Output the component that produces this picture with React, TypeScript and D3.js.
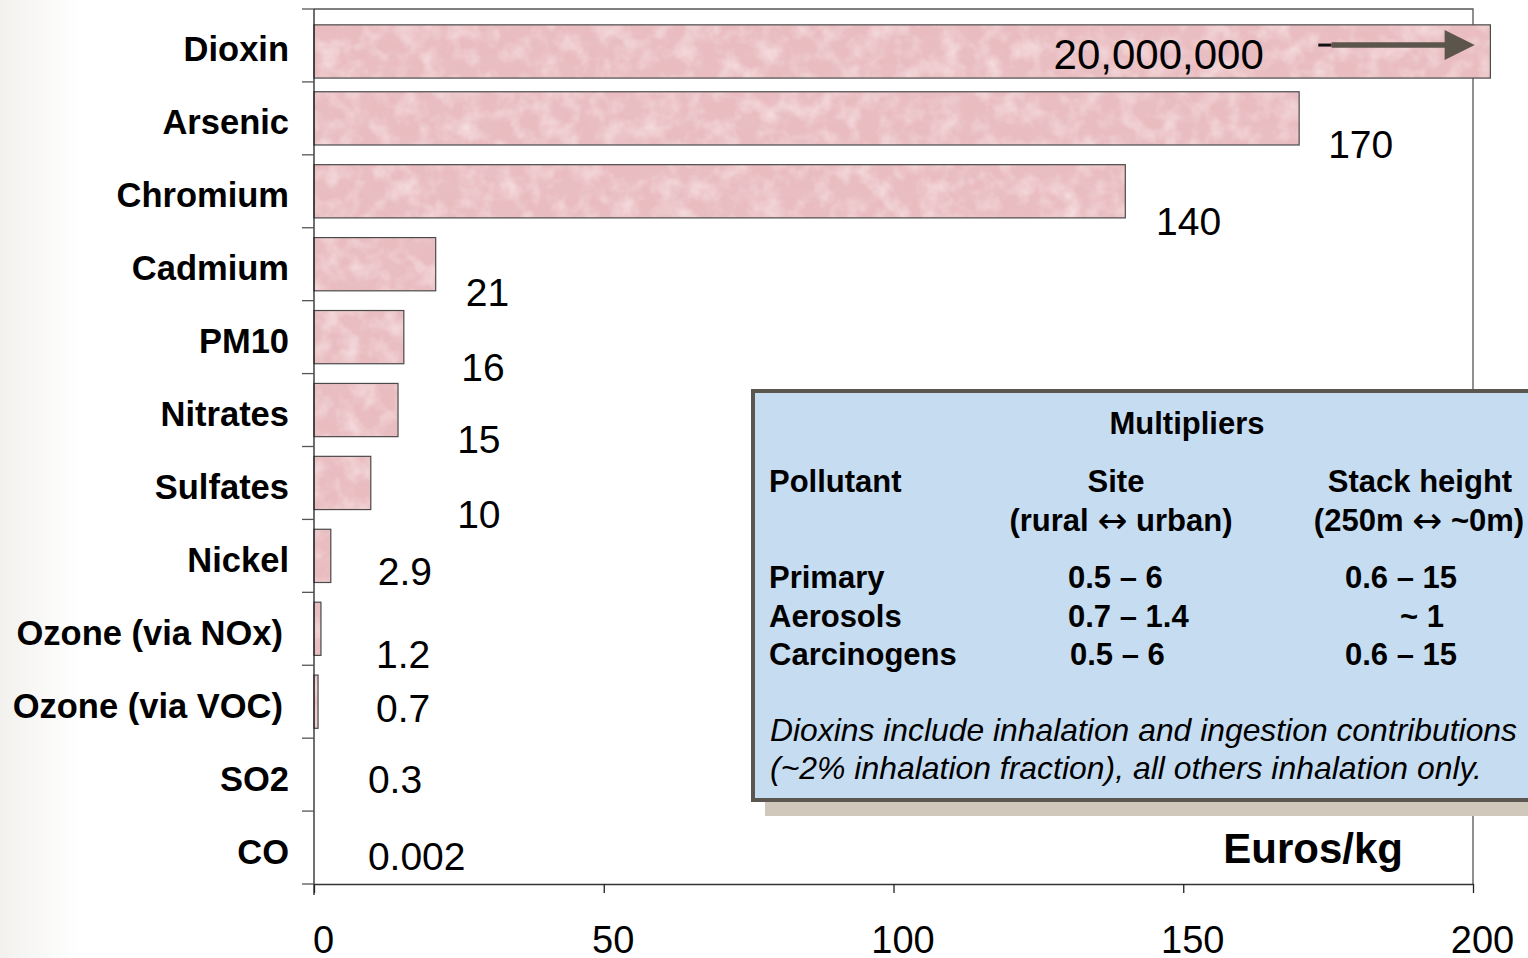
import React, { useEffect, useRef } from "react";
import * as d3 from "d3";

// ---- data ----
const categories = [
  "Dioxin", "Arsenic", "Chromium", "Cadmium", "PM10", "Nitrates",
  "Sulfates", "Nickel", "Ozone (via NOx)", "Ozone (via VOC)", "SO2", "CO",
];
// damage cost, Euros/kg
const values = [20000000, 170, 140, 21, 15.5, 14.5, 9.8, 2.9, 1.2, 0.7, 0.3, 0.002];
const valueLabels = ["20,000,000", "170", "140", "21", "16", "15", "10", "2.9", "1.2", "0.7", "0.3", "0.002"];
const axisMax = 200;
const brokenBarCap = 203; // Dioxin bar is drawn cut off just past the axis end
const xTicks = [0, 50, 100, 150, 200];
const xTickLabels = ["0", "50", "100", "150", "200"];
const axisTitle = "Euros/kg";

// annotation placement (data units along x, pixel nudges from band centre)
const valueLabelAt = [163.9, 175, 145.3, 26.2, 25.4, 24.7, 24.7, 11.0, 10.7, 10.7, 9.3, 9.3];
const valueLabelDy = [9.5, 26.6, 30.7, 27.8, 29.9, 29, 32, 16, 26, 7, 4.5, 8.5];

// inset table
const insetTitle = "Multipliers";
const insetHeaders = ["Pollutant", "Site", "Stack height"];
const insetSubHeaders = [["(rural ", " urban)"], ["(250m ", " ~0m)"]];
const insetRows = ["Primary", "Aerosols", "Carcinogens"];
const siteMultipliers = ["0.5 \u2013 6", "0.7 \u2013 1.4", "0.5 \u2013 6"];
const stackMultipliers = ["0.6 \u2013 15", "~ 1", "0.6 \u2013 15"];
const insetNote = [
  "Dioxins include inhalation and ingestion contributions",
  "(~2% inhalation fraction), all others inhalation only.",
];

const W = 1528;
const H = 958;
const FONT = "'Liberation Sans', Arial, Helvetica, sans-serif";

export default function App() {
  const ref = useRef<SVGSVGElement>(null);

  useEffect(() => {
    const svg = d3.select(ref.current);
    svg.selectAll("*").remove();

    const left = 314, right = 1473, top = 9, bottom = 884;
    const x = d3.scaleLinear().domain([0, axisMax]).range([left, right]);
    const pad = 0.27;
    const y = d3.scaleBand<string>().domain(categories).range([top, bottom])
      .paddingInner(pad).paddingOuter(pad / 2);
    const step = y.step();
    const center = (c: string) => (y(c) as number) + y.bandwidth() / 2;

    const defs = svg.append("defs");
    const lg = defs.append("linearGradient").attr("id", "edge").attr("x1", 0).attr("x2", 1);
    lg.append("stop").attr("offset", 0).attr("stop-color", "#f2f1ee");
    lg.append("stop").attr("offset", 1).attr("stop-color", "#ffffff");
    const f = defs.append("filter").attr("id", "marble")
      .attr("x", 0).attr("y", 0).attr("width", 1).attr("height", 1);
    f.append("feTurbulence").attr("type", "fractalNoise").attr("baseFrequency", "0.035 0.06")
      .attr("numOctaves", 4).attr("seed", 7).attr("result", "n");
    f.append("feColorMatrix").attr("in", "n").attr("type", "matrix")
      .attr("values", "0 0 0 0 0.80  0 0 0 0 0.55  0 0 0 0 0.58  1.0 0 0 0 -0.42")
      .attr("result", "c");
    f.append("feComposite").attr("in", "c").attr("in2", "SourceGraphic").attr("operator", "in");
    const f2 = defs.append("filter").attr("id", "marble2")
      .attr("x", 0).attr("y", 0).attr("width", 1).attr("height", 1);
    f2.append("feTurbulence").attr("type", "fractalNoise").attr("baseFrequency", "0.05")
      .attr("numOctaves", 3).attr("seed", 21).attr("result", "n");
    f2.append("feColorMatrix").attr("in", "n").attr("type", "matrix")
      .attr("values", "0 0 0 0 1  0 0 0 0 0.92  0 0 0 0 0.92  0 1.1 0 0 -0.45")
      .attr("result", "c");
    f2.append("feComposite").attr("in", "c").attr("in2", "SourceGraphic").attr("operator", "in");

    svg.append("rect").attr("x", 0).attr("y", 0).attr("width", W).attr("height", H).attr("fill", "#fff");
    svg.append("rect").attr("x", 0).attr("y", 0).attr("width", 80).attr("height", H).attr("fill", "url(#edge)");

    // frame (top & right)
    svg.append("path").attr("d", `M${left},${top}H${right}V${bottom}`)
      .attr("fill", "none").attr("stroke", "#555").attr("stroke-width", 1.3);

    // bars
    const barW = (v: number) => x(Math.min(v, brokenBarCap)) - x(0);
    const bars = svg.append("g");
    categories.forEach((c, i) => {
      const w = barW(values[i]);
      if (w < 2) return; // too thin to show beside the axis line
      const g = bars.append("g");
      const by = (y(c) as number) + (i === 0 ? 6 : 0);
      const r = () => g.append("rect").attr("x", x(0)).attr("y", by).attr("width", w)
        .attr("height", y.bandwidth());
      r().attr("fill", "#e9bcc0");
      r().attr("fill", "#000").attr("filter", "url(#marble)");
      r().attr("fill", "#000").attr("filter", "url(#marble2)");
      r().attr("fill", "none").attr("stroke", "#4a4a4a").attr("stroke-width", 1.2);
    });

    // arrow on broken Dioxin bar
    const ay = (y(categories[0]) as number) + 6 + y.bandwidth() * 0.38;
    svg.append("line").attr("x1", x(173.3)).attr("x2", x(175.6)).attr("y1", ay).attr("y2", ay)
      .attr("stroke", "#111").attr("stroke-width", 3);
    svg.append("line").attr("x1", x(175.6)).attr("x2", x(195.5)).attr("y1", ay).attr("y2", ay)
      .attr("stroke", "#5c554b").attr("stroke-width", 5.5);
    svg.append("path")
      .attr("d", `M${x(195.1)},${ay - 15}L${x(200.3)},${ay}L${x(195.1)},${ay + 15}Z`)
      .attr("fill", "#5c554b");

    // left axis with boundary ticks
    svg.append("line").attr("x1", left).attr("x2", left).attr("y1", top).attr("y2", bottom + 11)
      .attr("stroke", "#222").attr("stroke-width", 1.3);
    d3.range(categories.length + 1).forEach((k) => {
      const yy = top + k * step;
      svg.append("line").attr("x1", left - 12).attr("x2", left).attr("y1", yy).attr("y2", yy)
        .attr("stroke", "#555").attr("stroke-width", 1.3);
    });

    // bottom axis
    const ax = svg.append("g").attr("transform", `translate(0,${bottom})`)
      .call(d3.axisBottom(x).tickValues(xTicks).tickSize(9).tickSizeOuter(0)
        .tickFormat((_d, i) => xTickLabels[i]));
    ax.select(".domain").attr("stroke", "#333").attr("stroke-width", 1.6);
    ax.selectAll(".tick line").attr("stroke", "#222").attr("stroke-width", 1.3);
    ax.selectAll(".tick text").attr("font-family", FONT).attr("font-size", 38)
      .attr("fill", "#000").attr("y", 0).attr("dy", 0)
      .attr("transform", "translate(9,69)");

    // category labels
    categories.forEach((c) => {
      svg.append("text").attr("x", c.startsWith("Ozone") ? 283 : 289).attr("y", center(c) + 4)
        .attr("text-anchor", "end").attr("dominant-baseline", "central")
        .attr("font-family", FONT).attr("font-weight", "bold").attr("font-size", 34.5)
        .attr("fill", "#000").text(c);
    });

    // value labels
    categories.forEach((c, i) => {
      svg.append("text").attr("x", x(valueLabelAt[i])).attr("y", center(c) + valueLabelDy[i])
        .attr("text-anchor", i === 0 ? "end" : "start").attr("dominant-baseline", "central")
        .attr("font-family", FONT).attr("font-size", i === 0 ? 42 : 39)
        .attr("fill", "#000").text(valueLabels[i]);
    });

    // axis title
    svg.append("text").attr("x", 1403).attr("y", 848).attr("text-anchor", "end")
      .attr("dominant-baseline", "central").attr("font-family", FONT).attr("font-weight", "bold")
      .attr("font-size", 42).attr("fill", "#000").text(axisTitle);

    // inset box
    const bx = 753, by = 391, bw = 800, bh = 409;
    svg.append("rect").attr("x", 765).attr("y", by + bh).attr("width", bw).attr("height", 16)
      .attr("fill", "#cfc8bb");
    svg.append("rect").attr("x", bx).attr("y", by).attr("width", bw).attr("height", bh)
      .attr("fill", "#c6dcf1").attr("stroke", "#5b5650").attr("stroke-width", 4);

    const txt = (s: string, tx: number, ty: number, anchor: string, opts: any = {}) =>
      svg.append("text").attr("x", tx).attr("y", ty).attr("text-anchor", anchor)
        .attr("dominant-baseline", "central").attr("font-family", FONT)
        .attr("font-size", opts.size ?? 31).attr("font-weight", opts.weight ?? "bold")
        .attr("font-style", opts.style ?? "normal").attr("fill", "#000").text(s);

    const arrowTxt = (parts: string[], tx: number, ty: number) => {
      const t = svg.append("text").attr("x", tx).attr("y", ty).attr("text-anchor", "middle")
        .attr("dominant-baseline", "central").attr("font-family", FONT)
        .attr("font-size", 31).attr("font-weight", "bold").attr("fill", "#000");
      t.append("tspan").text(parts[0]);
      t.append("tspan").attr("font-family", "'DejaVu Sans', sans-serif").attr("font-weight", "normal")
        .attr("font-size", 36).text("\u2194");
      t.append("tspan").text(parts[1]);
    };

    txt(insetTitle, 1187, 423, "middle");
    txt(insetHeaders[0], 769, 481, "start");
    txt(insetHeaders[1], 1116, 481, "middle");
    txt(insetHeaders[2], 1420, 481, "middle");
    arrowTxt(insetSubHeaders[0], 1121, 520);
    arrowTxt(insetSubHeaders[1], 1419, 520);
    const rowY = [577, 616, 654];
    insetRows.forEach((r, i) => {
      txt(r, 769, rowY[i], "start");
      txt(siteMultipliers[i], i === 2 ? 1070 : 1068, rowY[i], "start");
      txt(stackMultipliers[i], i === 1 ? 1400 : 1345, rowY[i], "start");
    });
    insetNote.forEach((s, i) => {
      txt(s, 770, 730 + i * 38, "start", { weight: "normal", style: "italic", size: 31.5 })
        .attr("textLength", i === 0 ? 747 : 712).attr("lengthAdjust", "spacingAndGlyphs");
    });
  }, []);

  return (
    <svg ref={ref} width={W} height={H}
      style={{ position: "absolute", left: 0, top: 0, display: "block" }} />
  );
}
